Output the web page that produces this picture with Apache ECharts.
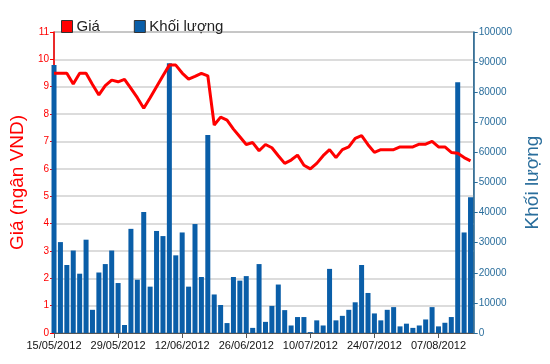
<!DOCTYPE html>
<html><head><meta charset="utf-8">
<script src="https://cdn.jsdelivr.net/npm/echarts@6/dist/echarts.min.js"></script>
<style>html,body{margin:0;padding:0;background:#fff}#c{width:550px;height:364px}</style>
</head><body><div id="c"></div>
<script>
// Tick labels on the date axis (every 10 trading sessions)
const tickLabels = ["15/05/2012","29/05/2012","12/06/2012","26/06/2012","10/07/2012","24/07/2012","07/08/2012"];
const tickIndices = [0,10,20,30,40,50,60];

// Price (thousand VND), one per trading session
const prices = [
  9.49, 9.49, 9.49, 9.10, 9.49, 9.49, 9.08, 8.70, 9.04, 9.24,
  9.18, 9.27, 8.94, 8.60, 8.21, 8.60, 9.00, 9.40, 9.79, 9.79,
  9.50, 9.28, 9.38, 9.49, 9.40, 7.60, 7.89, 7.78, 7.45, 7.17,
  6.89, 6.96, 6.66, 6.89, 6.77, 6.48, 6.20, 6.32, 6.50, 6.13,
  6.00, 6.20, 6.48, 6.70, 6.41, 6.70, 6.80, 7.11, 7.21, 6.88,
  6.60, 6.70, 6.70, 6.70, 6.80, 6.80, 6.80, 6.90, 6.90, 7.00,
  6.80, 6.80, 6.60, 6.57, 6.41, 6.29
];

// Volume, one per trading session
const volumes = [
  89000, 30200, 22600, 27400, 19700, 31000, 7700, 20100, 22900, 27400,
  16600, 2650, 34600, 17700, 40200, 15400, 33900, 32200, 89600, 25800,
  33400, 15400, 36200, 18600, 65800, 12800, 9300, 3300, 18600, 17400,
  18900, 1700, 22900, 3700, 9000, 16100, 7600, 2500, 5300, 5300,
  300, 4200, 2500, 21300, 4200, 5700, 7700, 10200, 22600, 13300,
  6500, 4200, 7700, 8600, 2200, 3100, 1700, 2500, 4500, 8600,
  2200, 3400, 5300, 83300, 33400, 45100
];

const FONT = "'Liberation Sans', Arial, sans-serif";
const RED = '#ff0000';
const BLUE = '#0a5ea8';
const AXBLUE = '#2a6e9c';

const chart = echarts.init(document.getElementById('c'), null, {renderer: 'canvas'});
chart.setOption({
  animation: false,
  backgroundColor: '#ffffff',
  textStyle: {fontFamily: FONT},
  legend: {
    left: 56, top: 14,
    itemWidth: 11, itemHeight: 12, itemGap: 34,
    icon: 'rect',
    itemStyle: {borderColor: '#333', borderWidth: 1},
    textStyle: {fontSize: 15, color: '#222', fontFamily: FONT, padding: [0,0,0,-1]},
    data: ['Giá', 'Khối lượng']
  },
  grid: {
    left: 53, right: 75, top: 32, bottom: 31,
    show: true, borderColor: '#555', borderWidth: 1, backgroundColor: 'transparent'
  },
  xAxis: {
    type: 'value', min: 0, max: 65.5, interval: 10,
    axisLine: {show: true, lineStyle: {color: '#555', width: 1}},
    axisTick: {show: true, length: 5, lineStyle: {color: '#555'}},
    splitLine: {show: false},
    axisLabel: {
      fontSize: 11, color: '#111', margin: 7, fontFamily: FONT,
      showMaxLabel: false,
      formatter: function (v) { const k = tickIndices.indexOf(v); return k >= 0 ? tickLabels[k] : ''; }
    }
  },
  yAxis: [
    {
      type: 'value', position: 'left', min: 0, max: 11, interval: 1,
      name: 'Giá (ngân VND)', nameLocation: 'middle', nameGap: 26, nameRotate: 90,
      nameTextStyle: {color: RED, fontSize: 19, fontFamily: FONT},
      axisLine: {show: true, lineStyle: {color: RED, width: 1.5}},
      axisTick: {show: true, length: 4, lineStyle: {color: RED}},
      axisLabel: {color: RED, fontSize: 10, margin: 5, fontFamily: FONT},
      splitLine: {show: true, lineStyle: {color: '#d0d0d0', width: 1.5}}
    },
    {
      type: 'value', position: 'right', min: 0, max: 100000, interval: 10000,
      name: 'Khối lượng', nameLocation: 'middle', nameGap: 48, nameRotate: 90,
      nameTextStyle: {color: AXBLUE, fontSize: 19, fontFamily: FONT},
      axisLine: {show: true, lineStyle: {color: AXBLUE, width: 1.5}},
      axisTick: {show: true, length: 4, lineStyle: {color: AXBLUE}},
      axisLabel: {color: AXBLUE, fontSize: 10, margin: 5, fontFamily: FONT,
        formatter: function (v) { return String(v); }},
      splitLine: {show: false}
    }
  ],
  series: [
    {
      name: 'Giá', type: 'line', yAxisIndex: 0, z: 5,
      data: prices.map((p, i) => [i, p]),
      showSymbol: false, symbol: 'none',
      itemStyle: {color: RED},
      lineStyle: {color: RED, width: 3}
    },
    {
      name: 'Khối lượng', type: 'bar', yAxisIndex: 1, z: 2, clip: false,
      data: volumes.map((v, i) => [i, v]),
      barWidth: 5,
      itemStyle: {color: BLUE}
    }
  ]
});
</script>
</body></html>
